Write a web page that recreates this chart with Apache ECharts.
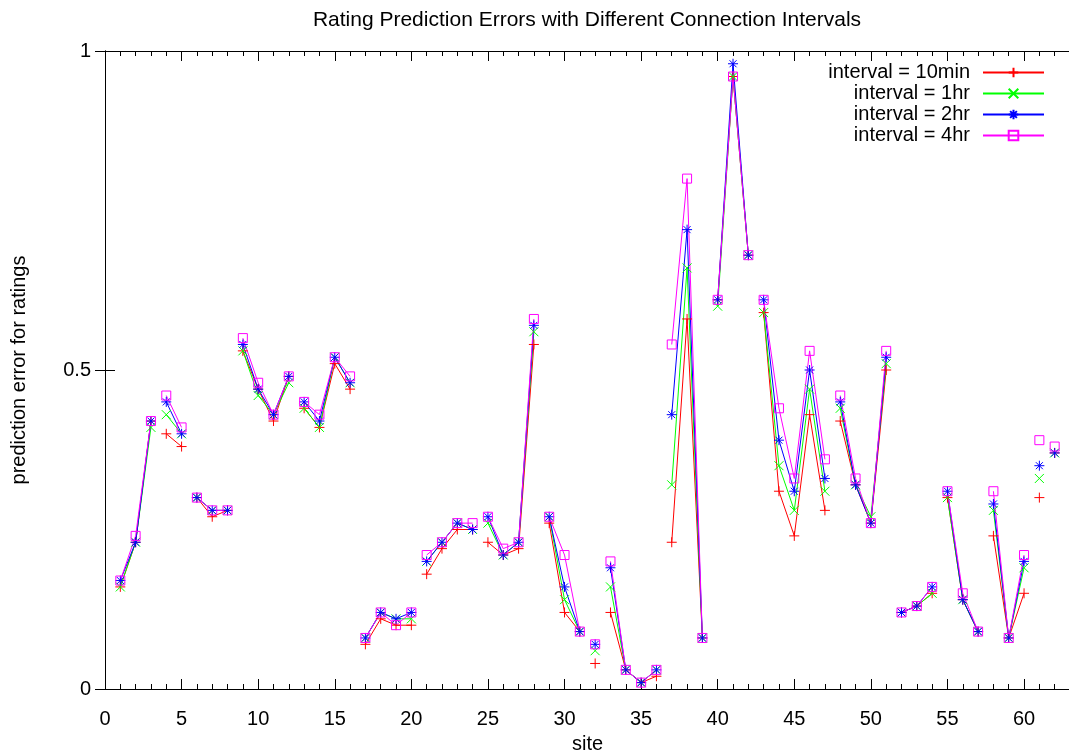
<!DOCTYPE html>
<html>
<head>
<meta charset="utf-8">
<script src="https://cdn.jsdelivr.net/npm/echarts@6/dist/echarts.min.js"></script>
<style>
  html, body { margin: 0; padding: 0; background: #fff; }
  #main { width: 1069px; height: 756px; }
</style>
</head>
<body>
<div id="main"></div>
<script>
// site numbers on the x axis
const sites = [1, 2, 3, 4, 5, 6, 7, 8, 9, 10, 11, 12, 13, 14, 15, 16, 17, 18, 19, 20,
  21, 22, 23, 24, 25, 26, 27, 28, 29, 30, 31, 32, 33, 34, 35, 36, 37, 38, 39, 40,
  41, 42, 43, 44, 45, 46, 47, 48, 49, 50, 51, 52, 53, 54, 55, 56, 57, 58, 59, 60, 61, 62];

// the lines are broken after these sites (blank lines in the data file)
const breakAfter = [3, 5, 8, 12, 16, 20, 24, 28, 31, 32, 36, 39, 42, 47, 51, 54, 57, 60, 61];

const err10min = [0.16, 0.23, 0.42, 0.40, 0.38, 0.30, 0.27, 0.28, 0.53, 0.47,
  0.42, 0.49, 0.44, 0.41, 0.51, 0.47, 0.07, 0.11, 0.10, 0.10,
  0.18, 0.22, 0.25, 0.25, 0.23, 0.21, 0.22, 0.54, 0.26, 0.12,
  0.09, 0.04, 0.12, 0.03, 0.01, 0.02, 0.23, 0.58, 0.08, 0.61,
  0.96, 0.68, 0.59, 0.31, 0.24, 0.43, 0.28, 0.42, 0.32, 0.26,
  0.50, 0.12, 0.13, 0.15, 0.30, 0.14, 0.09, 0.24, 0.08, 0.15, 0.30, 0.37];

const err1hr = [0.16, 0.23, 0.41, 0.43, 0.40, 0.30, 0.28, 0.28, 0.53, 0.46,
  0.43, 0.48, 0.44, 0.41, 0.52, 0.48, 0.08, 0.12, 0.11, 0.11,
  0.20, 0.23, 0.26, 0.25, 0.26, 0.21, 0.23, 0.56, 0.27, 0.14,
  0.09, 0.06, 0.16, 0.03, 0.01, 0.03, 0.32, 0.66, 0.08, 0.60,
  0.96, 0.68, 0.59, 0.35, 0.28, 0.47, 0.31, 0.44, 0.32, 0.27,
  0.51, 0.12, 0.13, 0.15, 0.30, 0.14, 0.09, 0.28, 0.08, 0.19, 0.33, 0.37];

const err2hr = [0.17, 0.23, 0.42, 0.45, 0.40, 0.30, 0.28, 0.28, 0.54, 0.47,
  0.43, 0.49, 0.45, 0.42, 0.52, 0.48, 0.08, 0.12, 0.11, 0.12,
  0.20, 0.23, 0.26, 0.25, 0.27, 0.21, 0.23, 0.57, 0.27, 0.16,
  0.09, 0.07, 0.19, 0.03, 0.01, 0.03, 0.43, 0.72, 0.08, 0.61,
  0.98, 0.68, 0.61, 0.39, 0.31, 0.50, 0.33, 0.45, 0.32, 0.26,
  0.52, 0.12, 0.13, 0.16, 0.31, 0.14, 0.09, 0.29, 0.08, 0.20, 0.35, 0.37];

const err4hr = [0.17, 0.24, 0.42, 0.46, 0.41, 0.30, 0.28, 0.28, 0.55, 0.48,
  0.43, 0.49, 0.45, 0.43, 0.52, 0.49, 0.08, 0.12, 0.10, 0.12,
  0.21, 0.23, 0.26, 0.26, 0.27, 0.22, 0.23, 0.58, 0.27, 0.21,
  0.09, 0.07, 0.20, 0.03, 0.01, 0.03, 0.54, 0.80, 0.08, 0.61,
  0.96, 0.68, 0.61, 0.44, 0.33, 0.53, 0.36, 0.46, 0.33, 0.26,
  0.53, 0.12, 0.13, 0.16, 0.31, 0.15, 0.09, 0.31, 0.08, 0.21, 0.39, 0.38];

const yTicks = [0, 0.5, 1];

const FONT = 'Liberation Sans';
const FS = 20;

// [site, value] pairs with a '-' gap after every break
function toData(values) {
  const out = [];
  sites.forEach(function (s, i) {
    out.push([s, values[i]]);
    if (breakAfter.indexOf(s) >= 0) out.push([s + 0.5, '-']);
  });
  return out;
}

const SYM_PLUS = 'path://M0,5L10,5M5,0L5,10';
const SYM_CROSS = 'path://M0,0L10,10M10,0L0,10';
const SYM_STAR = 'path://M0,5L10,5M5,0L5,10M1.5,1.5L8.5,8.5M8.5,1.5L1.5,8.5';

function makeSeries(name, values, color, symbol, size) {
  return {
    name: name,
    type: 'line',
    xAxisIndex: 0,
    yAxisIndex: 0,
    data: toData(values),
    connectNulls: false,
    showAllSymbol: true,
    symbol: symbol,
    symbolSize: size,
    color: color,
    lineStyle: { color: color, width: 1 },
    itemStyle: { color: 'none', borderColor: color, borderWidth: 1 },
    emphasis: { disabled: true }
  };
}

function xAxisDef(pos, interval, tickLen, labels) {
  return {
    type: 'value',
    position: pos,
    min: 0,
    max: 63,
    interval: interval,
    axisLine: { show: true, onZero: false, lineStyle: { color: '#000', width: 1 } },
    axisTick: { show: true, inside: true, length: tickLen, lineStyle: { color: '#000' } },
    axisLabel: {
      show: labels,
      margin: 20,
      color: '#000',
      fontFamily: FONT,
      fontSize: FS,
      formatter: function (v) { return v % 5 === 0 ? String(v) : ''; }
    },
    splitLine: { show: false }
  };
}

const chart = echarts.init(document.getElementById('main'), null, { renderer: 'canvas' });

chart.setOption({
  animation: false,
  backgroundColor: '#fff',
  textStyle: { fontFamily: FONT },
  title: {
    text: 'Rating Prediction Errors with Different Connection Intervals',
    left: 587,
    top: 10,
    padding: 0,
    textAlign: 'center',
    textStyle: { fontFamily: FONT, fontSize: 21, fontWeight: 'normal', color: '#000' }
  },
  legend: {
    orient: 'vertical',
    right: 24,
    top: 62,
    padding: 0,
    align: 'right',
    itemWidth: 61,
    itemHeight: 12,
    itemGap: 0,
    textStyle: { fontFamily: FONT, fontSize: FS, lineHeight: 21, color: '#000', padding: [0, 8, 0, 0] },
    data: ['interval = 10min', 'interval = 1hr', 'interval = 2hr', 'interval = 4hr']
  },
  grid: { left: 105, width: 965, top: 51, bottom: 67, outerBoundsMode: 'none', containLabel: false },
  xAxis: [
    Object.assign(xAxisDef('bottom', 1, 5, false), {
      name: 'site',
      nameLocation: 'middle',
      nameGap: 45,
      nameTextStyle: { fontFamily: FONT, fontSize: FS, color: '#000' }
    }),
    xAxisDef('bottom', 5, 10, true),
    xAxisDef('top', 1, 5, false),
    xAxisDef('top', 5, 10, false)
  ],
  yAxis: [
    {
      type: 'value',
      position: 'left',
      min: 0,
      max: 1,
      interval: 0.5,
      name: 'prediction error for ratings',
      nameLocation: 'middle',
      nameGap: 76,
      nameTextStyle: { fontFamily: FONT, fontSize: FS, color: '#000' },
      axisLine: { show: true, lineStyle: { color: '#000', width: 1 } },
      axisTick: { show: true, inside: true, length: 10, lineStyle: { color: '#000' } },
      axisLabel: {
        margin: 14,
        color: '#000',
        fontFamily: FONT,
        fontSize: FS,
        formatter: function (v) { return yTicks.indexOf(v) >= 0 ? String(v) : ''; }
      },
      splitLine: { show: false }
    },
    {
      type: 'value',
      position: 'right',
      min: 0,
      max: 1,
      interval: 0.5,
      axisLine: { show: true, lineStyle: { color: '#000', width: 1 } },
      axisTick: { show: true, inside: true, length: 10, lineStyle: { color: '#000' } },
      axisLabel: { show: false },
      splitLine: { show: false }
    }
  ],
  series: [
    makeSeries('interval = 10min', err10min, '#ff0000', SYM_PLUS, 10),
    makeSeries('interval = 1hr', err1hr, '#00ff00', SYM_CROSS, 9),
    makeSeries('interval = 2hr', err2hr, '#0000ff', SYM_STAR, 10),
    makeSeries('interval = 4hr', err4hr, '#ff00ff', 'rect', 9)
  ]
});
</script>
</body>
</html>
